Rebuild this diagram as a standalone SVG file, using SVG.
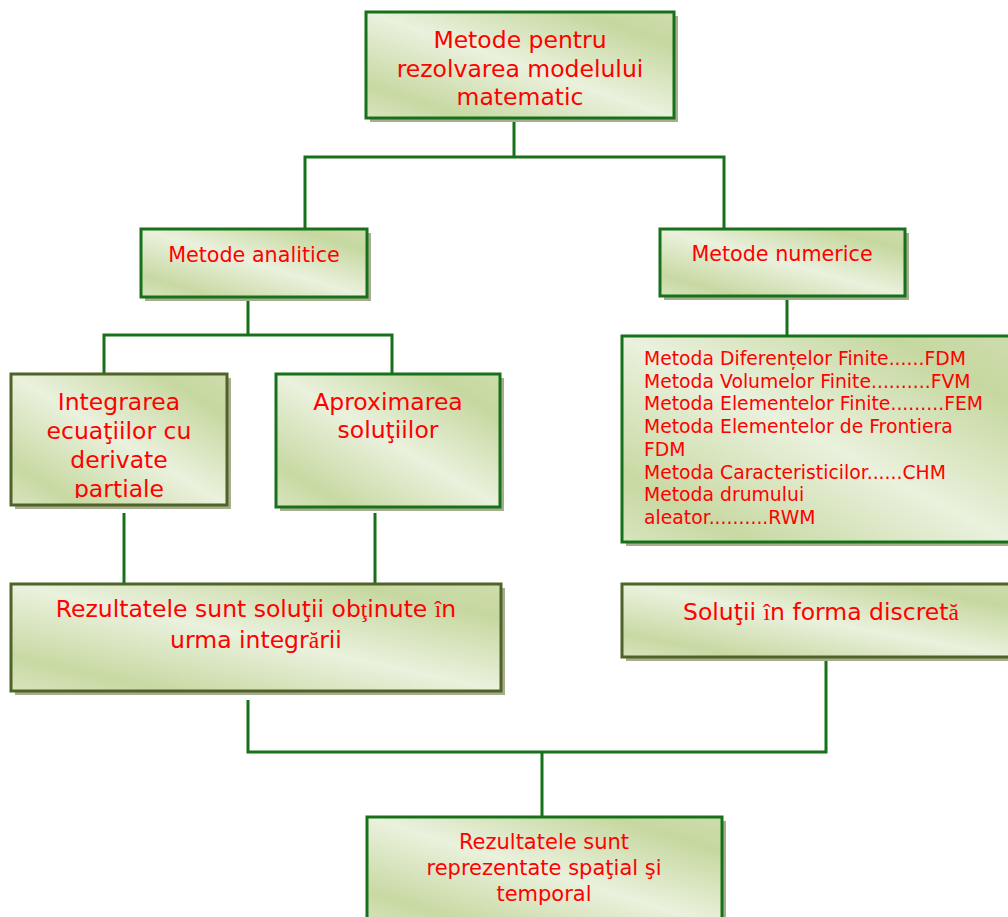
<svg xmlns="http://www.w3.org/2000/svg" width="1008" height="917" viewBox="0 0 1008 917">
  <defs>
    <!-- pale green box fill with darker bands near two opposite corners -->
    <linearGradient id="boxFill" x1="1" y1="0" x2="0" y2="1">
      <stop offset="0" stop-color="#cedcad"/>
      <stop offset="0.16" stop-color="#c6d8a0"/>
      <stop offset="0.5" stop-color="#eaf1dd"/>
      <stop offset="0.84" stop-color="#c8d9a3"/>
      <stop offset="1" stop-color="#d8e4be"/>
    </linearGradient>
    <clipPath id="clipIntegrarea">
      <rect x="11" y="374" width="216" height="124"/>
    </clipPath>
    <style>
      .shadow { fill: #a6ae8e; }
      .box { fill: url(#boxFill); stroke-width: 3; }
      .green { stroke: #17701a; }
      .olive { stroke: #4f6228; }
      .conn { fill: none; stroke: #17701a; stroke-width: 3; stroke-linejoin: miter; }
      text { font-family: "DejaVu Sans", Verdana, sans-serif; fill: #ff0000; }
      .c { text-anchor: middle; }
      .big { font-size: 23.5px; }
      .mid { font-size: 20.7px; }
      .low { font-size: 21px; }
      .list { font-size: 18.8px; }
      .serif { font-family: "Liberation Serif", "DejaVu Serif", serif; }
    </style>
  </defs>

  <!-- connectors -->
  <g id="connectors">
    <path class="conn" d="M514 119 V157 M305 229 V157 H724 V229"/>
    <path class="conn" d="M248 298 V335 M104 374 V335 H392 V374"/>
    <path class="conn" d="M787 297 V336"/>
    <path class="conn" d="M124 513 V584 M375 513 V584"/>
    <path class="conn" d="M248 700 V752 H826 V660 M542 752 V817"/>
  </g>

  <g id="node-metode">
    <rect class="shadow" x="370" y="16" width="308" height="106"/>
    <rect class="box green" x="366" y="12" width="308" height="106"/>
    <text class="c big" x="520" y="47.5">Metode pentru</text>
    <text class="c big" x="520" y="76.5">rezolvarea modelului</text>
    <text class="c big" x="520" y="105">matematic</text>
  </g>

  <g id="node-analitice">
    <rect class="shadow" x="145" y="233" width="226" height="68"/>
    <rect class="box green" x="141" y="229" width="226" height="68"/>
    <text class="c mid" x="254" y="262">Metode analitice</text>
  </g>

  <g id="node-numerice">
    <rect class="shadow" x="664" y="233" width="245" height="67"/>
    <rect class="box green" x="660" y="229" width="245" height="67"/>
    <text class="c mid" x="782" y="261">Metode numerice</text>
  </g>

  <g id="node-integrarea">
    <rect class="shadow" x="15" y="378" width="216" height="131"/>
    <rect class="box olive" x="11" y="374" width="216" height="131"/>
    <g clip-path="url(#clipIntegrarea)">
      <text class="c big" x="119" y="410">Integrarea</text>
      <text class="c big" x="119" y="439">ecuaţiilor cu</text>
      <text class="c big" x="119" y="468">derivate</text>
      <text class="c big" x="119" y="497">parţiale</text>
    </g>
  </g>

  <g id="node-aproximarea">
    <rect class="shadow" x="280" y="378" width="224" height="133"/>
    <rect class="box green" x="276" y="374" width="224" height="133"/>
    <text class="c big" x="388" y="410">Aproximarea</text>
    <text class="c big" x="388" y="438">soluţiilor</text>
  </g>

  <g id="node-lista">
    <rect class="shadow" x="626" y="340" width="390" height="206"/>
    <rect class="box green" x="622" y="336" width="390" height="206"/>
    <text class="list" x="644" y="365">Metoda Diferențelor Finite......FDM</text>
    <text class="list" x="644" y="387.7">Metoda Volumelor Finite..........FVM</text>
    <text class="list" x="644" y="410.4">Metoda Elementelor Finite.........FEM</text>
    <text class="list" x="644" y="433.1">Metoda Elementelor de Frontiera</text>
    <text class="list" x="644" y="455.8">FDM</text>
    <text class="list" x="644" y="478.5">Metoda Caracteristicilor......CHM</text>
    <text class="list" x="644" y="501.2">Metoda drumului</text>
    <text class="list" x="644" y="523.9">aleator..........RWM</text>
  </g>

  <g id="node-rezultate-integrare">
    <rect class="shadow" x="15" y="588" width="490" height="107"/>
    <rect class="box olive" x="11" y="584" width="490" height="107"/>
    <text class="c big" x="256" y="617">Rezultatele sunt soluţii ob<tspan class="serif">ţ</tspan>inute <tspan class="serif">î</tspan>n</text>
    <text class="c big" x="256" y="648">urma integr<tspan class="serif">ă</tspan>rii</text>
  </g>

  <g id="node-discreta">
    <rect class="shadow" x="626" y="588" width="390" height="73"/>
    <rect class="box olive" x="622" y="584" width="390" height="73"/>
    <text class="c big" x="821" y="620">Soluţii <tspan class="serif">î</tspan>n forma discret<tspan class="serif">ă</tspan></text>
  </g>

  <g id="node-reprezentare">
    <rect class="shadow" x="371" y="821" width="355" height="110"/>
    <rect class="box green" x="367" y="817" width="355" height="110"/>
    <text class="c low" x="544" y="849">Rezultatele sunt</text>
    <text class="c low" x="544" y="875">reprezentate spaţial şi</text>
    <text class="c low" x="544" y="901">temporal</text>
  </g>
</svg>
